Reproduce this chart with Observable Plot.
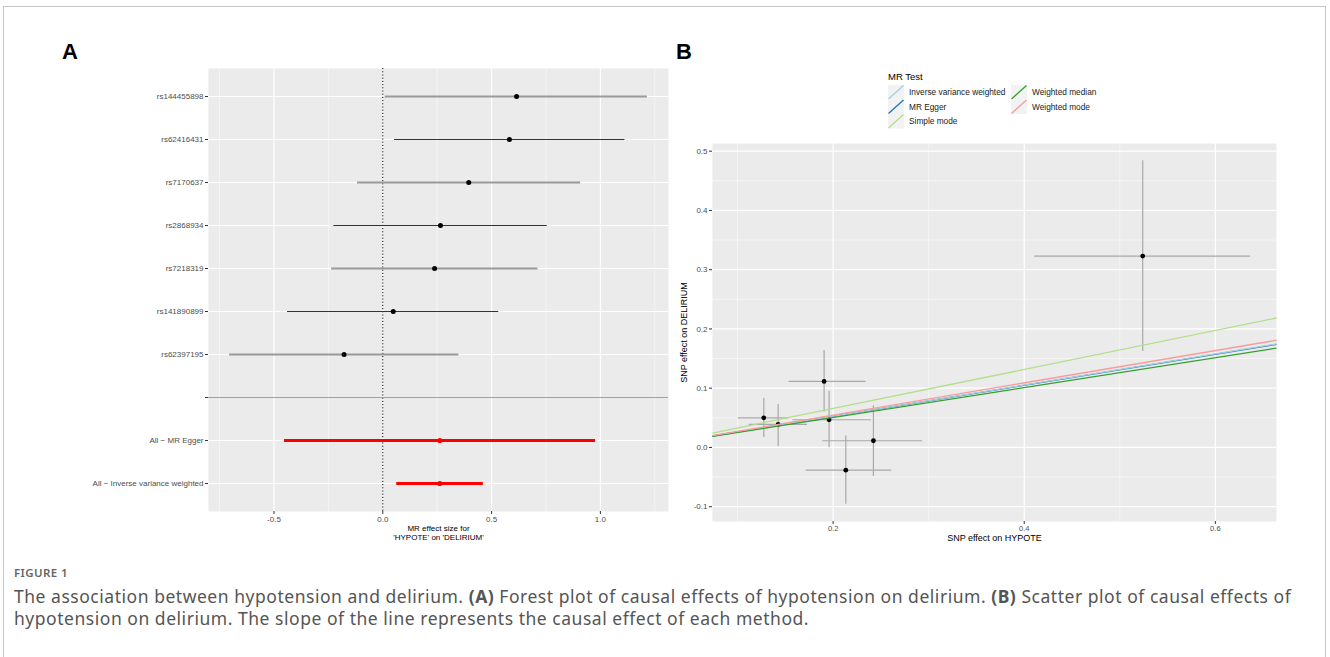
<!DOCTYPE html>
<html><head><meta charset="utf-8">
<script src="https://cdn.jsdelivr.net/npm/d3@7"></script>
<script src="https://cdn.jsdelivr.net/npm/@observablehq/plot@0.6"></script>
<style>
html,body{margin:0;padding:0;background:#fff;}
body{width:1330px;height:657px;overflow:hidden;position:relative;font-family:"Liberation Sans",Arial,sans-serif;}
#frame{position:absolute;left:3px;top:6px;width:1323px;height:700px;border:1px solid #c8c8c8;box-sizing:border-box;}
.plab{position:absolute;font-family:"Liberation Sans Narrow","Liberation Sans",sans-serif;font-weight:bold;font-size:22px;line-height:22px;color:#000;}
#pa{position:absolute;left:0;top:0;}
#pb{position:absolute;left:670px;top:0;}
#legend{position:absolute;left:880px;top:66px;}
#cap{position:absolute;left:14px;top:564px;font-family:"Noto Sans",sans-serif;color:#555;white-space:nowrap;}
#cap .fig{font-size:11.5px;letter-spacing:0.4px;color:#666;line-height:18px;font-weight:600;}
#cap .txt{font-size:17.5px;letter-spacing:0.53px;line-height:22.5px;margin-top:2.5px;}
</style>
</head><body>
<div id="frame"></div>
<div class="plab" style="left:62px;top:41px;">A</div>
<div class="plab" style="left:676px;top:41px;">B</div>
<div id="pa"></div>
<div id="pb"></div>
<div id="legend"></div>
<div id="cap"><div class="fig">FIGURE 1</div><div class="txt">The association between hypotension and delirium. <b>(A)</b> Forest plot of causal effects of hypotension on delirium. <b>(B)</b> Scatter plot of causal effects of<br>hypotension on delirium. The slope of the line represents the causal effect of each method.</div></div>
<script>
// ---------- Panel A data (forest plot) ----------
const snps = ["rs144455898","rs62416431","rs7170637","rs2868934","rs7218319","rs141890899","rs62397195"];
const snpB  = [0.615, 0.582, 0.395, 0.265, 0.238, 0.048, -0.178];
const snpLo = [0.011, 0.054, -0.116, -0.225, -0.235, -0.438, -0.704];
const snpHi = [1.216, 1.113, 0.909, 0.756, 0.713, 0.533, 0.350];
const sumLabels = ["All \u2212 MR Egger", "All \u2212 Inverse variance weighted"];
const sumB  = [0.262, 0.262];
const sumLo = [-0.452, 0.064];
const sumHi = [0.978, 0.462];
const blankRow = "sep";
const xTicksA = [-0.5, 0.0, 0.5, 1.0];
const xMinorA = [-0.75, -0.25, 0.25, 0.75, 1.25];
const xDomainA = [-0.801, 1.313];
const xTitleA = "MR effect size for\n'HYPOTE' on 'DELIRIUM'";

// ---------- Panel B data (scatter plot) ----------
const bx   = [0.1275, 0.1425, 0.1906, 0.1958, 0.2422, 0.2133, 0.524];
const bxLo = [0.1007, 0.1122, 0.1540, 0.1580, 0.1892, 0.1718, 0.411];
const bxHi = [0.1538, 0.1732, 0.2345, 0.2401, 0.2937, 0.2613, 0.637];
const by   = [0.0500, 0.0388, 0.1114, 0.0467, 0.0113, -0.0383, 0.323];
const byLo = [0.0169, 0.0017, 0.0597, -0.0006, -0.0490, -0.0957, 0.162];
const byHi = [0.0827, 0.0726, 0.1638, 0.0945, 0.0703, 0.0191, 0.484];
const methods = ["Inverse variance weighted","MR Egger","Simple mode","Weighted median","Weighted mode"];
const slopes = [0.263, 0.262, 0.329, 0.2525, 0.2725];
const intercepts = [0, 0, 0, 0, 0];
const methodColors = ["#A6CEE3","#1F78B4","#B2DF8A","#33A02C","#FB9A99"];
const drawOrder = [1, 0, 2, 3, 4];
const xTicksB = [0.2, 0.4, 0.6];
const xMinorB = [0.1, 0.3, 0.5];
const yTicksB = [-0.1, 0.0, 0.1, 0.2, 0.3, 0.4, 0.5];
const yMinorB = [-0.05, 0.05, 0.15, 0.25, 0.35, 0.45];
const xDomainB = [0.0738, 0.664];
const yDomainB = [-0.125, 0.513];

// ---------- Panel A ----------
const snpRows = snps.map((s, i) => ({label: s, b: snpB[i], lo: snpLo[i], hi: snpHi[i], i}));
const sumRows = sumLabels.map((s, i) => ({label: s, b: sumB[i], lo: sumLo[i], hi: sumHi[i]}));
const yDomainA = [...snps, blankRow, ...sumLabels];
const fmt1 = d => d.toFixed(1);

const plotA = Plot.plot({
  width: 680, height: 560,
  marginLeft: 208, marginRight: 12, marginTop: 68, marginBottom: 49,
  style: {fontFamily: "Liberation Sans, Arial, sans-serif", fontSize: "8px", background: "transparent"},
  x: {domain: xDomainA},
  y: {type: "point", domain: yDomainA, padding: 0.6},
  marks: [
    Plot.frame({fill: "#ebebeb", stroke: "none"}),
    Plot.ruleX(xMinorA, {stroke: "#fff", strokeWidth: 0.5}),
    Plot.ruleX(xTicksA, {stroke: "#fff", strokeWidth: 1.2}),
    Plot.ruleY(yDomainA, {stroke: "#fff", strokeWidth: 1.2}),
    Plot.ruleX([0], {stroke: "#000", strokeWidth: 1, strokeDasharray: "1.2,2"}),
    Plot.ruleY([blankRow], {stroke: "#a0a0a0", strokeWidth: 1.2}),
    Plot.ruleY(snpRows.filter(d => d.i % 2 === 0), {y: "label", x1: "lo", x2: "hi", stroke: "#9a9a9a", strokeWidth: 1.8}),
    Plot.ruleY(snpRows.filter(d => d.i % 2 === 1), {y: "label", x1: "lo", x2: "hi", stroke: "#333", strokeWidth: 1}),
    Plot.dot(snpRows, {x: "b", y: "label", r: 2.5, fill: "#000", stroke: "none"}),
    Plot.ruleY(sumRows, {y: "label", x1: "lo", x2: "hi", stroke: "#ff0000", strokeWidth: 3}),
    Plot.dot(sumRows, {x: "b", y: "label", r: 2.6, fill: "#ff0000", stroke: "none"}),
    Plot.axisX({ticks: xTicksA, tickFormat: fmt1, tickSize: 3, tickPadding: 2, fontSize: 8, color: "#4d4d4d", stroke: "#333", label: null}),
    Plot.axisY({tickSize: 3, tickPadding: 2, fontSize: 8, color: "#4d4d4d", stroke: "#333", label: null,
                tickFormat: d => d === blankRow ? "" : d}),
    Plot.text([xTitleA], {frameAnchor: "bottom", dy: 13, lineAnchor: "top", fontSize: 8, fill: "#000", lineHeight: 1.15})
  ]
});
document.getElementById("pa").appendChild(plotA);

// ---------- Panel B ----------
const pts = bx.map((x, i) => ({x, y: by[i], xlo: bxLo[i], xhi: bxHi[i], ylo: byLo[i], yhi: byHi[i]}));
const lines = drawOrder.map(i => ({
  m: methods[i], c: methodColors[i],
  x1: xDomainB[0], x2: xDomainB[1],
  y1: intercepts[i] + slopes[i] * xDomainB[0],
  y2: intercepts[i] + slopes[i] * xDomainB[1]
}));

const plotB = Plot.plot({
  width: 660, height: 560,
  marginLeft: 42, marginRight: 54, marginTop: 143, marginBottom: 39,
  style: {fontFamily: "Liberation Sans, Arial, sans-serif", fontSize: "8px", background: "transparent"},
  x: {domain: xDomainB},
  y: {domain: yDomainB},
  marks: [
    Plot.frame({fill: "#ebebeb", stroke: "none"}),
    Plot.ruleX(xMinorB, {stroke: "#fff", strokeWidth: 0.5}),
    Plot.ruleY(yMinorB, {stroke: "#fff", strokeWidth: 0.5}),
    Plot.ruleX(xTicksB, {stroke: "#fff", strokeWidth: 1.2}),
    Plot.ruleY(yTicksB, {stroke: "#fff", strokeWidth: 1.2}),
    Plot.ruleY(pts, {y: "y", x1: "xlo", x2: "xhi", stroke: "#a8a8a8", strokeWidth: 1.2}),
    Plot.ruleX(pts, {x: "x", y1: "ylo", y2: "yhi", stroke: "#a8a8a8", strokeWidth: 1.2}),
    Plot.dot(pts, {x: "x", y: "y", r: 2.4, fill: "#000", stroke: "none"}),
    ...lines.map(l => Plot.link([l], {x1: "x1", x2: "x2", y1: "y1", y2: "y2", stroke: l.c, strokeWidth: 1.3})),
    Plot.axisX({ticks: xTicksB, tickFormat: fmt1, tickSize: 3, tickPadding: 1, fontSize: 7.5, color: "#4d4d4d", stroke: "#333", label: null}),
    Plot.axisY({ticks: yTicksB, tickFormat: fmt1, tickSize: 3, tickPadding: 2, fontSize: 8, color: "#4d4d4d", stroke: "#333",
                label: "SNP effect on DELIRIUM", labelAnchor: "center", labelArrow: "none", labelOffset: 32}),
    Plot.text(["SNP effect on HYPOTE"], {frameAnchor: "bottom", dy: 19, fontSize: 9, fill: "#000"})
  ]
});
document.getElementById("pb").appendChild(plotB);
d3.select(plotB).selectAll("g[aria-label='y-axis label'] text").attr("fill", "#000").style("font-size", "9px");

// ---------- Legend ----------
const lg = d3.select("#legend").append("svg").attr("width", 250).attr("height", 70)
  .style("font-family", "Liberation Sans, Arial, sans-serif");
lg.append("text").attr("x", 8).attr("y", 14).attr("font-size", 9.5).attr("fill", "#000").text("MR Test");
const cols = [[0, 1, 2], [3, 4]];
const colX = [8, 131];
cols.forEach((col, ci) => {
  col.forEach((mi, ri) => {
    const x = colX[ci], y = 19 + ri * 14.5;
    const g = lg.append("g");
    g.append("rect").attr("x", x).attr("y", y).attr("width", 16).attr("height", 14.5).attr("fill", "#f2f2f2");
    g.append("line").attr("x1", x + 0.5).attr("y1", y + 14).attr("x2", x + 15.5).attr("y2", y + 0.5)
      .attr("stroke", methodColors[mi]).attr("stroke-width", 1.3);
    g.append("text").attr("x", x + 21).attr("y", y + 7.25).attr("dy", "0.35em").attr("font-size", 8.3)
      .attr("fill", "#1a1a1a").text(methods[mi]);
  });
});
</script>
</body></html>
